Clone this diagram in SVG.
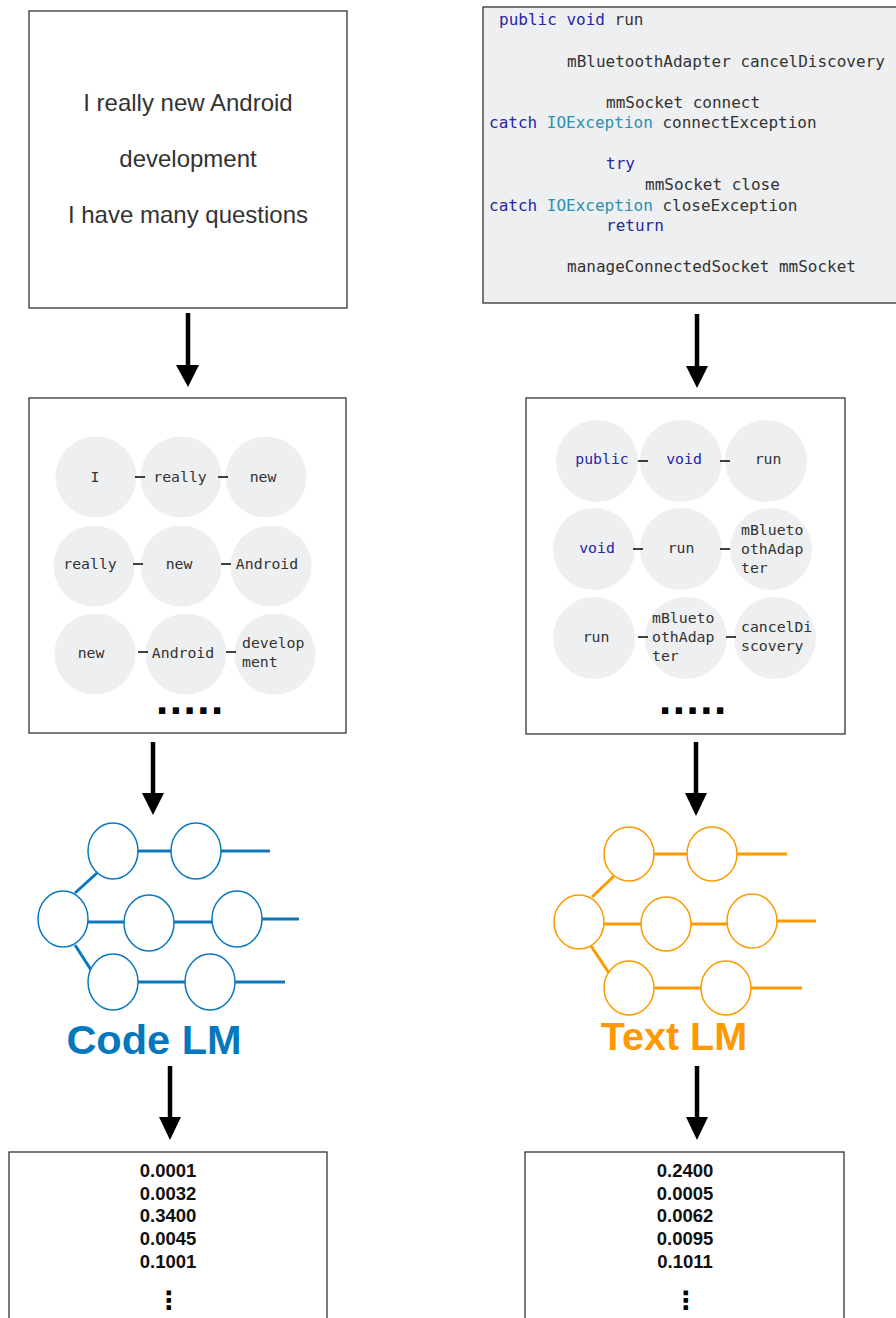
<svg xmlns="http://www.w3.org/2000/svg" width="896" height="1318" viewBox="0 0 896 1318">
<defs>
<style>
.box{fill:#fff;stroke:#333;stroke-width:1.3}
.code{fill:#eeeff1;stroke:#333;stroke-width:1.3}
.bubble{fill:#eeeff1}
.mono{font-family:"DejaVu Sans Mono","Liberation Mono",monospace;fill:#333}
.cl{font-size:16px}
.ml{font-size:14.8px}
.kw{fill:#2626a6}
.ty{fill:#2b91af}
.sans{font-family:"Liberation Sans",Arial,sans-serif}
.big{font-size:24px;fill:#333;text-anchor:middle}
.num{font-size:18.5px;font-weight:bold;fill:#111;text-anchor:middle}
.dash{stroke:#111;stroke-width:1.6}
.shaft{stroke:#000;stroke-width:4.5}
.head{fill:#000}
.nb{fill:#fff;stroke:#0b78bd;stroke-width:1.5}
.lb{stroke:#0b78bd;stroke-width:3}
.no{fill:#fff;stroke:#ff9900;stroke-width:1.5}
.lo{stroke:#ff9900;stroke-width:3}
.dots{font-family:"Liberation Sans",Arial,sans-serif;font-weight:bold;font-size:44px;letter-spacing:1.5px;fill:#000}
.vd{font-family:"DejaVu Sans",sans-serif;font-weight:bold;font-size:25px;fill:#000;text-anchor:middle}
</style>
</defs>

<g id="sentence">
<rect class="box" x="29" y="11" width="318" height="297"/>
<text class="sans big" x="188" y="111">I really new Android</text>
<text class="sans big" x="188" y="167">development</text>
<text class="sans big" x="188" y="223">I have many questions</text>
</g>

<g id="code">
<rect class="code" x="483" y="7" width="420" height="296"/>
<text class="mono cl" x="499" y="25"><tspan class="kw">public</tspan> <tspan class="kw">void</tspan> run</text>
<text class="mono cl" x="567" y="67">mBluetoothAdapter cancelDiscovery</text>
<text class="mono cl" x="606" y="108">mmSocket connect</text>
<text class="mono cl" x="489" y="128"><tspan class="kw">catch</tspan> <tspan class="ty">IOException</tspan> connectException</text>
<text class="mono cl" x="606" y="169"><tspan class="kw">try</tspan></text>
<text class="mono cl" x="645" y="190">mmSocket close</text>
<text class="mono cl" x="489" y="211"><tspan class="kw">catch</tspan> <tspan class="ty">IOException</tspan> closeException</text>
<text class="mono cl" x="606" y="231"><tspan class="kw">return</tspan></text>
<text class="mono cl" x="567" y="272">manageConnectedSocket mmSocket</text>
</g>

<g id="ngrams-text">
<rect class="box" x="29" y="398" width="317" height="335"/>
<circle class="bubble" cx="96" cy="477" r="40.5"/>
<circle class="bubble" cx="181" cy="477" r="40.5"/>
<circle class="bubble" cx="266" cy="477" r="40.5"/>
<circle class="bubble" cx="94" cy="566" r="40.5"/>
<circle class="bubble" cx="181" cy="566" r="40.5"/>
<circle class="bubble" cx="271" cy="566" r="40.5"/>
<circle class="bubble" cx="95" cy="654" r="40.5"/>
<circle class="bubble" cx="186" cy="654" r="40.5"/>
<circle class="bubble" cx="275" cy="654" r="40.5"/>
<line class="dash" x1="135" y1="477" x2="145" y2="477"/>
<line class="dash" x1="218" y1="477" x2="228" y2="477"/>
<line class="dash" x1="133" y1="564" x2="143" y2="564"/>
<line class="dash" x1="221" y1="564" x2="231" y2="564"/>
<line class="dash" x1="138" y1="652" x2="148" y2="652"/>
<line class="dash" x1="226" y1="652" x2="236" y2="652"/>
<g class="mono ml" text-anchor="middle">
<text x="95" y="482">I</text>
<text x="180" y="482">really</text>
<text x="263" y="482">new</text>
<text x="90" y="569">really</text>
<text x="179" y="569">new</text>
<text x="267" y="569">Android</text>
<text x="91" y="658">new</text>
<text x="183" y="658">Android</text>
</g>
<text class="mono ml" x="242" y="648">develop</text>
<text class="mono ml" x="242" y="667">ment</text>
<text class="dots" x="156" y="714">.....</text>
</g>

<g id="ngrams-code">
<rect class="box" x="526" y="398" width="319" height="336"/>
<circle class="bubble" cx="597" cy="461" r="41"/>
<circle class="bubble" cx="681" cy="461" r="41"/>
<circle class="bubble" cx="766" cy="461" r="41"/>
<circle class="bubble" cx="594" cy="549" r="41"/>
<circle class="bubble" cx="681" cy="549" r="41"/>
<circle class="bubble" cx="771" cy="549" r="41"/>
<circle class="bubble" cx="594" cy="638" r="41"/>
<circle class="bubble" cx="686" cy="638" r="41"/>
<circle class="bubble" cx="775" cy="638" r="41"/>
<line class="dash" x1="638" y1="461" x2="648" y2="461"/>
<line class="dash" x1="720" y1="461" x2="730" y2="461"/>
<line class="dash" x1="633" y1="549" x2="643" y2="549"/>
<line class="dash" x1="720" y1="549" x2="730" y2="549"/>
<line class="dash" x1="638" y1="637" x2="648" y2="637"/>
<line class="dash" x1="726" y1="637" x2="736" y2="637"/>
<g class="mono ml" text-anchor="middle">
<text class="kw" x="602" y="464">public</text>
<text class="kw" x="684" y="464">void</text>
<text x="768" y="464">run</text>
<text class="kw" x="597" y="553">void</text>
<text x="681" y="553">run</text>
<text x="596" y="642">run</text>
</g>
<text class="mono ml" x="741" y="535">mBlueto</text>
<text class="mono ml" x="741" y="554">othAdap</text>
<text class="mono ml" x="741" y="573">ter</text>
<text class="mono ml" x="652" y="623">mBlueto</text>
<text class="mono ml" x="652" y="642">othAdap</text>
<text class="mono ml" x="652" y="661">ter</text>
<text class="mono ml" x="741" y="632">cancelDi</text>
<text class="mono ml" x="741" y="651">scovery</text>
<text class="dots" x="659" y="714">.....</text>
</g>

<g id="code-lm">
<line class="lb" x1="138" y1="851" x2="171" y2="851"/>
<line class="lb" x1="221" y1="851" x2="270" y2="851"/>
<line class="lb" x1="88" y1="922" x2="124" y2="922"/>
<line class="lb" x1="174" y1="922" x2="212" y2="922"/>
<line class="lb" x1="262" y1="919" x2="299" y2="919"/>
<line class="lb" x1="138" y1="982" x2="185" y2="982"/>
<line class="lb" x1="235" y1="982" x2="285" y2="982"/>
<line class="lb" x1="75" y1="893" x2="97" y2="873"/>
<line class="lb" x1="75" y1="945" x2="93" y2="973"/>
<ellipse class="nb" cx="113" cy="851" rx="25" ry="28"/>
<ellipse class="nb" cx="196" cy="851" rx="25" ry="28"/>
<ellipse class="nb" cx="63" cy="919" rx="25" ry="28"/>
<ellipse class="nb" cx="149" cy="923" rx="25" ry="28"/>
<ellipse class="nb" cx="237" cy="919" rx="25" ry="28"/>
<ellipse class="nb" cx="113" cy="982" rx="25" ry="28"/>
<ellipse class="nb" cx="210" cy="982" rx="25" ry="28"/>
<text class="sans" x="154" y="1054" font-size="41.5" font-weight="bold" fill="#0577bd" text-anchor="middle">Code LM</text>
</g>

<g id="text-lm">
<line class="lo" x1="654" y1="854" x2="687" y2="854"/>
<line class="lo" x1="737" y1="854" x2="787" y2="854"/>
<line class="lo" x1="604" y1="924" x2="641" y2="924"/>
<line class="lo" x1="691" y1="924" x2="727" y2="924"/>
<line class="lo" x1="777" y1="921" x2="816" y2="921"/>
<line class="lo" x1="654" y1="988" x2="701" y2="988"/>
<line class="lo" x1="751" y1="988" x2="802" y2="988"/>
<line class="lo" x1="592" y1="897" x2="614" y2="876"/>
<line class="lo" x1="591" y1="946" x2="609" y2="973"/>
<ellipse class="no" cx="629" cy="854" rx="25" ry="27"/>
<ellipse class="no" cx="712" cy="854" rx="25" ry="27"/>
<ellipse class="no" cx="579" cy="922" rx="25" ry="27"/>
<ellipse class="no" cx="666" cy="924" rx="25" ry="27"/>
<ellipse class="no" cx="752" cy="921" rx="25" ry="27"/>
<ellipse class="no" cx="629" cy="988" rx="25" ry="27"/>
<ellipse class="no" cx="726" cy="988" rx="25" ry="27"/>
<text class="sans" x="674" y="1050" font-size="39.5" font-weight="bold" fill="#ff9900" text-anchor="middle">Text LM</text>
</g>

<g id="scores-code">
<rect class="box" x="9" y="1152" width="318" height="180"/>
<text class="sans num" x="168" y="1177">0.0001</text>
<text class="sans num" x="168" y="1200">0.0032</text>
<text class="sans num" x="168" y="1222">0.3400</text>
<text class="sans num" x="168" y="1245">0.0045</text>
<text class="sans num" x="168" y="1268">0.1001</text>
<text class="vd" x="169" y="1309">⋮</text>
</g>

<g id="scores-text">
<rect class="box" x="525" y="1152" width="319" height="180"/>
<text class="sans num" x="685" y="1177">0.2400</text>
<text class="sans num" x="685" y="1200">0.0005</text>
<text class="sans num" x="685" y="1222">0.0062</text>
<text class="sans num" x="685" y="1245">0.0095</text>
<text class="sans num" x="685" y="1268">0.1011</text>
<text class="vd" x="686" y="1309">⋮</text>
</g>

<g id="connectors">
<line class="shaft" x1="188" y1="313" x2="188" y2="366"/>
<polygon class="head" points="176,365 199,365 188,387"/>
<line class="shaft" x1="697" y1="314" x2="697" y2="367"/>
<polygon class="head" points="686,366 708,366 697,388"/>
<line class="shaft" x1="153" y1="742" x2="153" y2="794"/>
<polygon class="head" points="142,793 164,793 153,815"/>
<line class="shaft" x1="696" y1="742" x2="696" y2="794"/>
<polygon class="head" points="685,793 707,793 696,816"/>
<line class="shaft" x1="170" y1="1066" x2="170" y2="1118"/>
<polygon class="head" points="159,1117 181,1117 170,1140"/>
<line class="shaft" x1="697" y1="1066" x2="697" y2="1118"/>
<polygon class="head" points="686,1117 708,1117 697,1140"/>
</g>
</svg>
